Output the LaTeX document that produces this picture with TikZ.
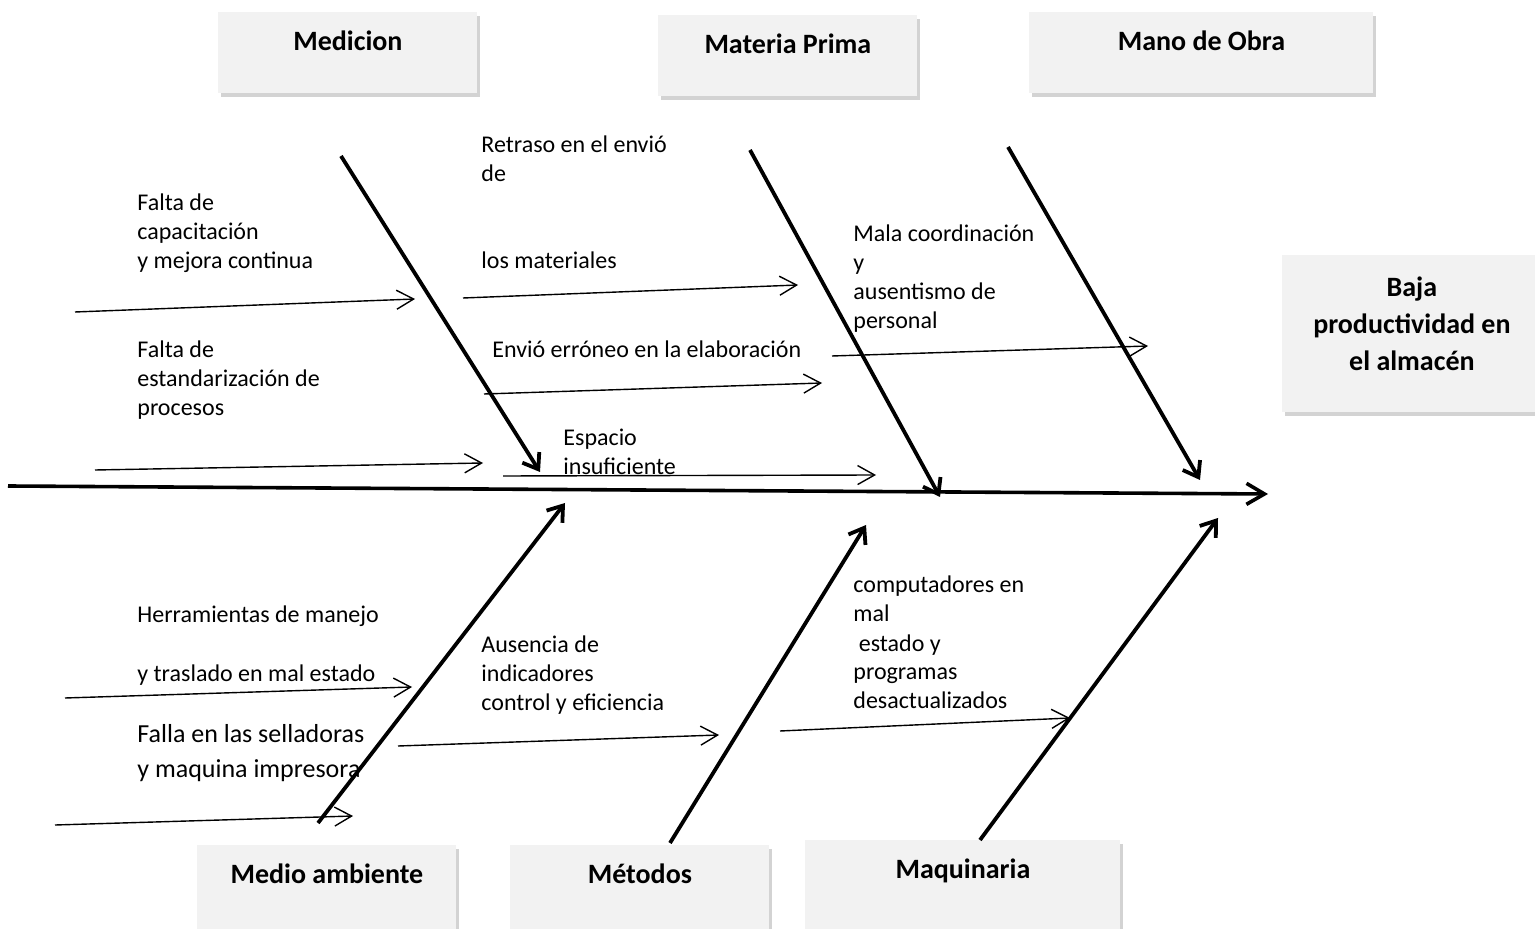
\documentclass[tikz,border=0pt]{standalone}
\usepackage{fontspec}
\setmainfont{Carlito}
\usetikzlibrary{arrows.meta,shadows}
\definecolor{boxgray}{HTML}{F2F2F2}

\tikzset{
  catbox/.style={fill=boxgray, inner sep=0pt, anchor=north west, minimum width=129.5pt,
    text height=19pt, text depth=21.5pt, font=\fontsize{14}{18.5}\selectfont\bfseries,
    drop shadow={shadow xshift=1.5pt, shadow yshift=-2pt, opacity=0.35}},
  cause/.style={anchor=base west, text width=130pt, align=flush left, inner sep=0pt, font=\fontsize{12}{14.5}\selectfont},
  spine/.style={line width=1.8pt, -{Straight Barb[length=9pt,width=10.5pt]}},
  bone/.style={line width=1.9pt, -{Straight Barb[length=7pt,width=10pt]}},
  twig/.style={line width=0.7pt, -{Straight Barb[length=8.5pt,width=9.5pt]}}
}

\begin{document}
\begin{tikzpicture}[x=0.5pt, y=-0.5pt]
  \useasboundingbox (0,0) rectangle (1535,929);

  % category boxes
  \node[catbox] (medicion) at (218,12) {Medicion};
  \node[catbox] (materia) at (658,15) {Materia Prima};
  \node[catbox, minimum width=172pt] (manoobra) at (1029,12) {Mano de Obra};
  \node[catbox, text width=126.5pt, text height=20.5pt, text depth=58pt, align=flush center] (efecto) at (1282,255) {Baja\\productividad en\\el almacén};
  \node[catbox, text depth=25pt] (medio) at (197,845) {Medio ambiente};
  \node[catbox, text depth=25pt] (metodos) at (510,845) {Métodos};
  \node[catbox, minimum width=157.5pt, text depth=27pt] (maquinaria) at (805,840) {Maquinaria};

  % spine and bones
  \coordinate (tail) at (8,486);
  \coordinate (head) at (1268,494);
  \draw[spine] (tail) -- (head);
  \foreach \n/\xa/\ya/\xb/\yb in {med/341/156/540/472, mat/750/150/940/497, man/1008/147/1200/480,
      amb/318/823/565/503, met/670/843/866/525, maq/980/840/1218/518}
  {
    \coordinate (\n0) at (\xa,\ya);
    \coordinate (\n1) at (\xb,\yb);
    \draw[bone] (\n0) -- (\n1);
  }

  % small causes
  \foreach \n/\xa/\ya/\xb/\yb in {cap/75/312/415/299, ret/463/298/798/285, est/95/470/483/463,
      env/484/394/822/383, esp/503/476/876/475, coo/832/356/1148/346,
      her/65/698/412/687, aus/398/746/719/735, com/780/731/1070/718, fal/55/825/353/816}
  {
    \coordinate (\n0) at (\xa,\ya);
    \coordinate (\n1) at (\xb,\yb);
    \draw[twig] (\n0) -- (\n1);
  }

  \node[cause] (capacit) at (137,211) {Falta de\\capacitación\\y mejora continua};
  \node[cause] (estand) at (137,358) {Falta de\\estandarización de\\procesos};
  \node[cause] (retraso) at (481,153) {Retraso en el envió\\de\\[29pt]los materiales};
  \node[cause, text width=180pt] (erroneo) at (492,358) {Envió erróneo en la elaboración};
  \node[cause] (espacio) at (563,446) {Espacio\\insuficiente};
  \node[cause] (coord) at (853,242) {Mala coordinación\\y\\ausentismo de\\personal};
  \node[cause] (herram) at (137,623) {Herramientas de manejo\\[14.5pt]y traslado en mal estado};
  \node[cause, font=\fontsize{13}{17.5}\selectfont] (falla) at (137,742) {Falla en las selladoras\\y maquina impresora};
  \node[cause] (ausencia) at (481,652) {Ausencia de\\indicadores\\control y eficiencia};
  \node[cause] (comput) at (853,593) {computadores en\\mal\\\ estado y\\programas\\desactualizados};
\end{tikzpicture}
\end{document}
